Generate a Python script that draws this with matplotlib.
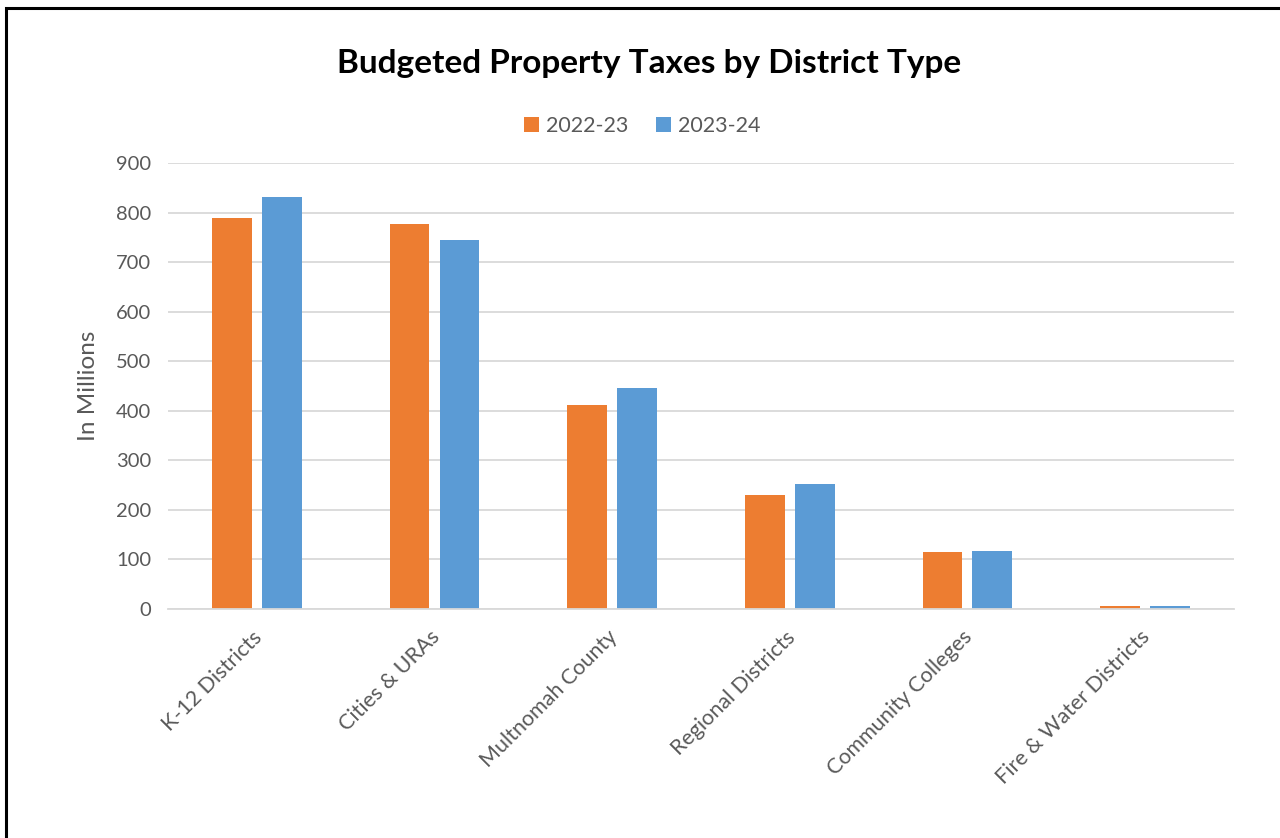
import matplotlib.pyplot as plt
import matplotlib.patches as mpatches
import matplotlib.transforms as mtransforms
import numpy as np

plt.rcParams['font.family'] = ['Lato', 'DejaVu Sans']

# Budgeted property taxes, millions of dollars
districts = ['K-12 Districts', 'Cities & URAs', 'Multnomah County',
             'Regional Districts', 'Community Colleges', 'Fire & Water Districts']
fy_2022_23 = [789, 776, 411, 231, 115, 5]
fy_2023_24 = [832, 745, 446, 253, 117, 5]

orange = '#ED7D31'
blue = '#5B9BD5'
grey_text = '#595959'

fig = plt.figure(figsize=(12.8, 8.38), dpi=100)
ax = fig.add_axes([0.13125, 0.2733, 0.8328, 0.5322])

x = np.arange(len(districts))
w = 0.225
off = 0.1407
ax.bar(x - off, fy_2022_23, w, color=orange, label='2022-23')
ax.bar(x + off, fy_2023_24, w, color=blue, label='2023-24')

ax.set_xlim(-0.5, len(districts) - 0.5)
ax.set_ylim(0, 900)
ax.set_yticks(range(0, 901, 100))
ax.yaxis.grid(True, color='#d9d9d9', lw=1.3)
ax.set_axisbelow(True)
for s in ['top', 'right', 'left']:
    ax.spines[s].set_visible(False)
ax.spines['bottom'].set_color('#d9d9d9')
ax.spines['bottom'].set_linewidth(1.3)
ax.tick_params(axis='both', length=0, labelsize=14.5, colors=grey_text, pad=12)

ax.set_xticks(x)
ax.set_xticklabels(districts, rotation=45, ha='right', rotation_mode='anchor',
                   fontsize=15.5)
ax.tick_params(axis='x', pad=13)
shift = mtransforms.ScaledTranslation(-0.05, 0, fig.dpi_scale_trans)
for lbl in ax.get_xticklabels():
    lbl.set_transform(lbl.get_transform() + shift)
ax.set_ylabel('In Millions', fontsize=17.5, color=grey_text, labelpad=12)

fig.text(0.507, 0.924, 'Budgeted Property Taxes by District Type',
         ha='center', va='center', fontsize=24, fontweight='bold', color='black')
ax.legend(loc='center', bbox_to_anchor=(0.445, 1.083), ncol=2, frameon=False,
          fontsize=15.5, handlelength=0.7, handleheight=0.7, handletextpad=0.3,
          columnspacing=1.3, labelcolor=grey_text)

# outer frame
fig.patches.append(mpatches.Rectangle((5.5 / 1280, -0.1), 1.2, 1 - 8.5 / 838 + 0.1,
                                      transform=fig.transFigure, fill=False,
                                      edgecolor='black', lw=2.2))

fig.savefig('out.png', dpi=100)
